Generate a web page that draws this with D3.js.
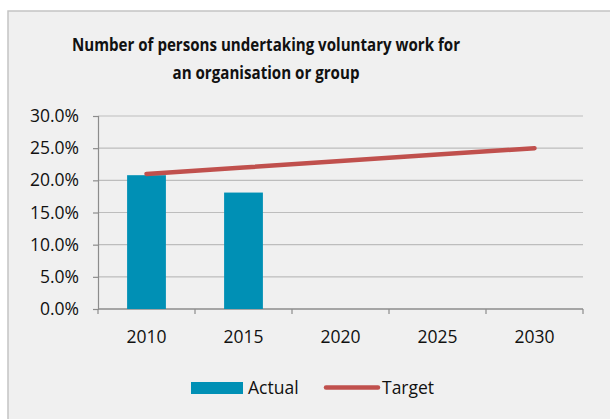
<!DOCTYPE html>
<html>
<head>
<meta charset="utf-8">
<script src="https://cdn.jsdelivr.net/npm/d3@7"></script>
<style>
  html, body { margin: 0; padding: 0; background: #ffffff; }
  svg { display: block; }
  text { font-family: "Open Sans", "Liberation Sans", sans-serif; fill: #111; }
</style>
</head>
<body>
<svg id="chart" width="610" height="419"></svg>
<script>
// Chart data
const years = ["2010", "2015", "2020", "2025", "2030"];
const actual = [20.8, 18.1, null, null, null];
const target = [21.0, 22.0, 23.0, 24.0, 25.0];
const yTicks = [0, 5, 10, 15, 20, 25, 30];
const titleLines = ["Number of persons undertaking voluntary work for", "an organisation or group"];
const seriesNames = ["Actual", "Target"];

const barColor = "#0090b5";
const lineColor = "#c0504d";
const labelSize = "17.5px";

const svg = d3.select("#chart");

// chart area frame
svg.append("rect")
  .attr("x", 8).attr("y", 11).attr("width", 610).attr("height", 420)
  .attr("fill", "#f0f0f0").attr("stroke", "#c4c4c4").attr("stroke-width", 1.5);

const plot = { left: 98, right: 583, top: 116, bottom: 309 };

const x = d3.scaleBand().domain(years).range([plot.left, plot.right]).paddingInner(0).paddingOuter(0);
const y = d3.scaleLinear().domain([0, 30]).range([plot.bottom, plot.top]);

// title: bold, condensed to fit the title width
const titleWidths = [388, 187];
svg.append("g").selectAll("text").data(titleLines).join("text")
  .attr("x", 266).attr("y", (d, i) => 50.5 + i * 28)
  .attr("text-anchor", "middle")
  .attr("textLength", (d, i) => titleWidths[i])
  .attr("lengthAdjust", "spacingAndGlyphs")
  .style("font-weight", "bold").style("font-size", "18px")
  .text(d => d);

// gridlines
svg.append("g").selectAll("line").data(yTicks.filter(t => t > 0)).join("line")
  .attr("x1", plot.left).attr("x2", plot.right)
  .attr("y1", d => y(d)).attr("y2", d => y(d))
  .attr("stroke", "#bdbdbd").attr("stroke-width", 1.2);

// y axis
const yAxis = svg.append("g")
  .attr("transform", `translate(${plot.left},0)`)
  .call(d3.axisLeft(y).tickValues(yTicks).tickFormat(d => d.toFixed(1) + "%").tickSize(5).tickPadding(14));
yAxis.select(".domain").attr("stroke", "#8c8c8c").attr("stroke-width", 1.2);
yAxis.selectAll(".tick line").attr("stroke", "#8c8c8c").attr("stroke-width", 1.2);
yAxis.selectAll(".tick text").style("font-size", labelSize).style("font-family", "'Open Sans', sans-serif").attr("fill", "#111");

// x axis: ticks on band boundaries
const xAxisG = svg.append("g").attr("transform", `translate(0,${plot.bottom})`);
xAxisG.append("line")
  .attr("x1", plot.left).attr("x2", plot.right)
  .attr("stroke", "#8c8c8c").attr("stroke-width", 1.5);
const boundaries = years.map(d => x(d)).concat([x(years[years.length - 1]) + x.bandwidth()]);
xAxisG.selectAll("line.tk").data(boundaries).join("line").attr("class", "tk")
  .attr("x1", d => d).attr("x2", d => d).attr("y1", 0).attr("y2", 5)
  .attr("stroke", "#8c8c8c").attr("stroke-width", 1.2);
xAxisG.selectAll("text").data(years).join("text")
  .attr("x", d => x(d) + x.bandwidth() / 2).attr("y", 34)
  .attr("text-anchor", "middle").style("font-size", labelSize)
  .text(d => d);

// bars
const barW = x.bandwidth() * 0.4;
svg.append("g").selectAll("rect")
  .data(years.map((d, i) => ({ year: d, v: actual[i] })).filter(d => d.v != null))
  .join("rect")
  .attr("x", d => x(d.year) + (x.bandwidth() - barW) / 2)
  .attr("width", barW)
  .attr("y", d => y(d.v))
  .attr("height", d => y(0) - y(d.v))
  .attr("fill", barColor);

// target line
const line = d3.line()
  .x((d, i) => x(years[i]) + x.bandwidth() / 2)
  .y(d => y(d));
svg.append("path")
  .datum(target)
  .attr("d", line)
  .attr("fill", "none")
  .attr("stroke", lineColor)
  .attr("stroke-width", 4.5)
  .attr("stroke-linecap", "round");

// legend
const lg = svg.append("g");
lg.append("rect").attr("x", 191).attr("y", 382).attr("width", 52).attr("height", 12).attr("fill", barColor);
lg.append("text").attr("x", 248).attr("y", 394).style("font-size", labelSize).text(seriesNames[0]);
lg.append("line").attr("x1", 326).attr("x2", 378).attr("y1", 387.5).attr("y2", 387.5)
  .attr("stroke", lineColor).attr("stroke-width", 4.5).attr("stroke-linecap", "round");
lg.append("text").attr("x", 382).attr("y", 394).style("font-size", labelSize).text(seriesNames[1]);
</script>
</body>
</html>
